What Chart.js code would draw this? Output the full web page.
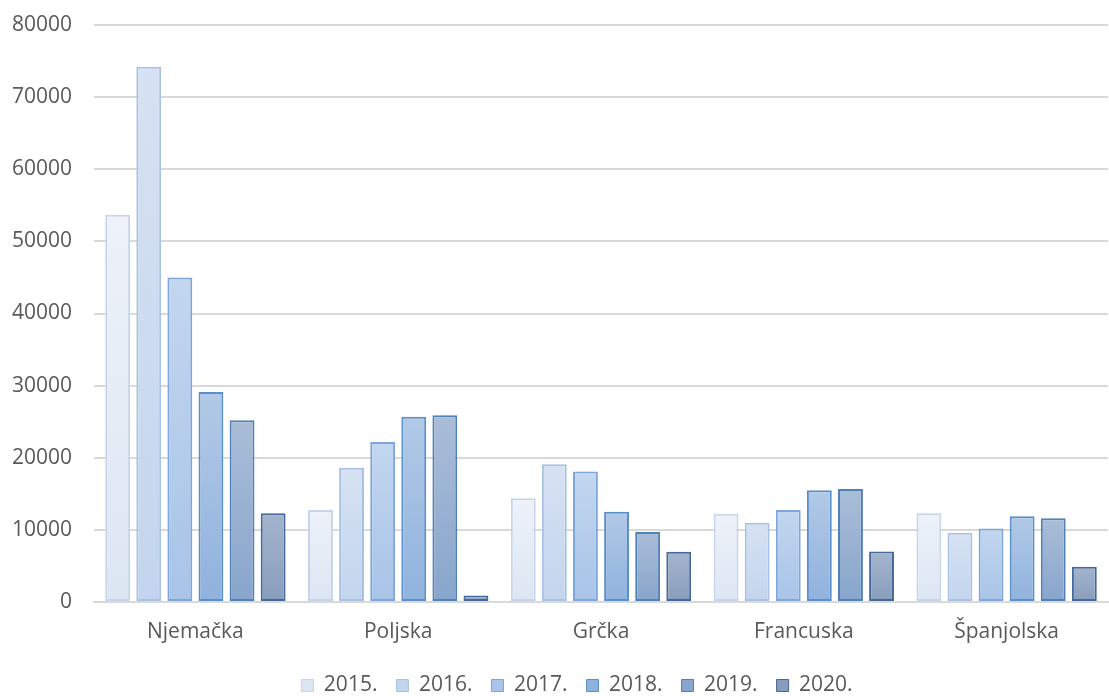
<!DOCTYPE html>
<html>
<head>
<meta charset="utf-8">
<script src="https://cdn.jsdelivr.net/npm/chart.js@4/dist/chart.umd.min.js"></script>
<style>
  html, body { margin: 0; padding: 0; background: #fff; }
  #wrap { width: 1109px; height: 696px; position: relative; }
</style>
</head>
<body>
<div id="wrap"><canvas id="chart"></canvas></div>
<script>
const countries = ['Njemačka', 'Poljska', 'Grčka', 'Francuska', 'Španjolska'];
const years = ['2015.', '2016.', '2017.', '2018.', '2019.', '2020.'];

const v2015 = [53700, 12750, 14400, 12250, 12300];
const v2016 = [74200, 18600, 19100, 11000, 9600];
const v2017 = [45000, 22200, 18100, 12750, 10200];
const v2018 = [29100, 25700, 12500, 15500, 11900];
const v2019 = [25200, 25900, 9700, 15650, 11600];
const v2020 = [12300, 900, 6950, 7000, 4900];

const yTicks = [0, 10000, 20000, 30000, 40000, 50000, 60000, 70000, 80000];

// top / bottom gradient colours and outline per year
const topCols = ['#eef2f9', '#d6e2f2', '#c2d6ef', '#b2c9e7', '#aabdd7', '#a4b4cd'];
const botCols = ['#dce6f3', '#c3d5ee', '#a8c4e8', '#8fb2dd', '#88a5cc', '#889dbd'];
const lineCols = ['#c6d5ea', '#a9c2e4', '#7ea6da', '#5b8fca', '#5181b9', '#44699a'];

const seriesValues = [v2015, v2016, v2017, v2018, v2019, v2020];

function barFill(i) {
    return (ctx) => {
        const chart = ctx.chart;
        if (!chart.chartArea || ctx.type !== 'data') return botCols[i];
        const y = chart.scales.y;
        const top = y.getPixelForValue(ctx.raw);
        const base = y.getPixelForValue(0);
        if (!isFinite(top) || base - top < 1) return botCols[i];
        const g = chart.ctx.createLinearGradient(0, top, 0, base);
        g.addColorStop(0, topCols[i]);
        g.addColorStop(1, botCols[i]);
        return g;
    };
}

const datasets = years.map((yr, i) => ({
    label: yr,
    data: seriesValues[i],
    backgroundColor: barFill(i),
    borderColor: lineCols[i],
    borderWidth: 2,
    borderSkipped: false,
    categoryPercentage: 0.92,
    barPercentage: 0.8
}));

const font = { family: 'Open Sans', size: 21 };
const textCol = '#595959';

// legend sits a bit left of the plot centre in the original
const legendShift = {
    id: 'legendShift',
    afterLayout(chart) {
        const lg = chart.legend;
        if (!lg) return;
        lg.left -= 24;
        lg.right -= 24;
    }
};

new Chart(document.getElementById('chart'), {
    type: 'bar',
    data: { labels: countries, datasets },
    plugins: [legendShift],
    options: {
        responsive: true,
        maintainAspectRatio: false,
        animation: false,
        layout: { padding: { top: 25, right: 1, left: 0, bottom: -10 } },
        plugins: {
            tooltip: { enabled: false },
            legend: {
                position: 'bottom',
                fullSize: false,
                labels: {
                    color: textCol,
                    font,
                    boxWidth: 12,
                    boxHeight: 12,
                    padding: 19,
                    generateLabels: (chart) => Chart.defaults.plugins.legend.labels
                        .generateLabels(chart).map(l => ({ ...l, lineWidth: 1 }))
                }
            }
        },
        scales: {
            x: {
                afterFit: (s) => { s.height = 54; },
                grid: { display: false, drawTicks: false },
                border: { color: '#d9d9d9', width: 2 },
                ticks: { color: textCol, font, padding: 17 }
            },
            y: {
                min: 0,
                max: 80000,
                afterBuildTicks: (s) => { s.ticks = yTicks.map(v => ({ value: v })); },
                afterFit: (s) => { s.width = 94; },
                border: { display: false },
                grid: { color: '#d9d9d9', lineWidth: 2, drawTicks: true, tickLength: 22, tickColor: 'rgba(0,0,0,0)' },
                ticks: { color: textCol, font, padding: 0, callback: (v) => String(v) }
            }
        }
    }
});
</script>
</body>
</html>
